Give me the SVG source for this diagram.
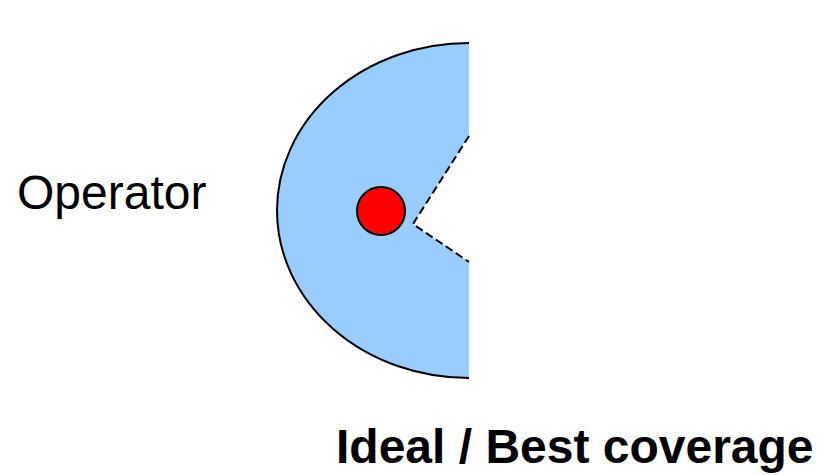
<svg xmlns="http://www.w3.org/2000/svg" width="834" height="475" viewBox="0 0 834 475">
<style>
.lbl{font-family:"Liberation Sans",Arial,sans-serif;fill:#000}
.dash{fill:none;stroke:#000;stroke-width:2;stroke-dasharray:8,4}
</style>
<rect width="834" height="475" fill="#fff"/>
<g id="coverage">
<path d="M469,43 A192,167.5 0 0 0 469,378 Z" fill="#99ccff"/>
<path d="M469,43 A192,167.5 0 0 0 469,378" fill="none" stroke="#000" stroke-width="2"/>
<polygon points="469,136 413,224 469,262" fill="#fff"/>
</g>
<g id="connectors">
<polyline class="dash" points="469,136 413,224 469,262"/>
</g>
<g id="operator">
<circle cx="381" cy="211" r="24" fill="#ff0000" stroke="#000" stroke-width="2"/>
<text class="lbl" x="17" y="209" font-size="48">Operator</text>
</g>
<g id="title">
<text class="lbl" x="336" y="463" font-size="48" font-weight="bold">Ideal / Best coverage</text>
</g>
</svg>
